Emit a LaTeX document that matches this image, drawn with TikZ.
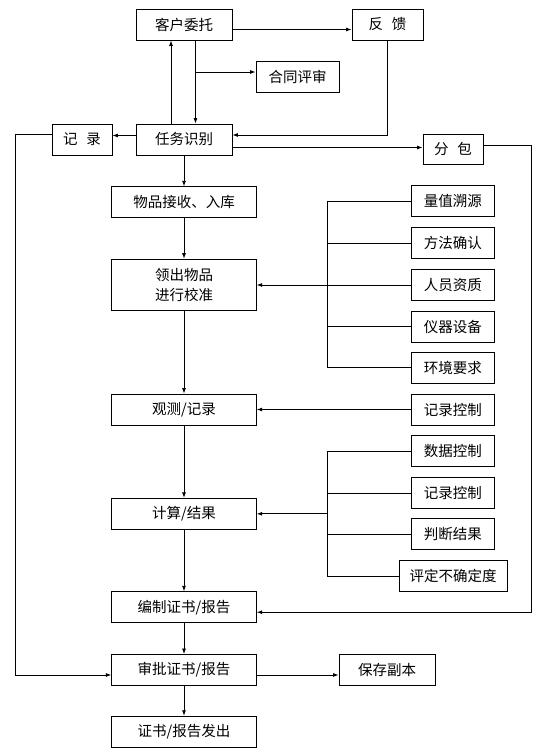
\documentclass[tikz,border=0pt]{standalone}
\usepackage{fontspec}
\setmainfont{Noto Sans CJK SC}
\usetikzlibrary{arrows.meta}
\begin{document}
\begin{tikzpicture}[x=1pt,y=-1pt,
  box/.style={draw, line width=0.9pt, inner sep=0pt, minimum height=31pt, align=center, font=\fontsize{14.5}{19.5}\selectfont},
  mainbox/.style={box, minimum width=144.5pt},
  sidebox/.style={box, minimum width=83.6pt},
  arr/.style={line width=0.8pt, -{Latex[length=5.5pt,width=4pt]}},
  ln/.style={line width=0.8pt}]
\fill[white] (0,0) rectangle (550,752);
\useasboundingbox (0,0) rectangle (550,752);
% top part
\node[box, minimum width=96pt] (kh) at (184,24.5) {客户委托};
\node[box, minimum width=71pt] (fk) at (387.5,24.5) {反\hspace{0.6em}馈};
\node[box, minimum width=83pt, minimum height=31.5pt] (ht) at (297.5,76.75) {合同评审};
\node[box, minimum width=60pt] (jl) at (82,139.5) {记\hspace{0.6em}录};
\node[box, minimum width=96pt] (rw) at (184,139.5) {任务识别};
\node[box, minimum width=60pt, minimum height=30pt] (fb) at (453,149.3) {分\hspace{0.6em}包};
% main column
\node[mainbox] (wp) at (184,202.3) {物品接收、入库};
\node[mainbox, minimum height=51.7pt] (lc) at (184,285) {领出物品\\进行校准};
\node[mainbox] (gc) at (184,409.5) {观测/记录};
\node[mainbox] (js) at (184,513.8) {计算/结果};
\node[mainbox] (bz) at (184,607.2) {编制证书/报告};
\node[mainbox] (sp) at (184,670) {审批证书/报告};
\node[mainbox] (fc) at (184,731.7) {证书/报告发出};
\node[box, minimum width=96pt] (bc) at (387,670) {保存副本};
% right column
\node[sidebox] (q1) at (452.8,201.3) {量值溯源};
\node[sidebox] (q2) at (452.8,243.3) {方法确认};
\node[sidebox] (q3) at (452.8,285) {人员资质};
\node[sidebox] (q4) at (452.8,326.7) {仪器设备};
\node[sidebox] (q5) at (452.8,367.8) {环境要求};
\node[sidebox] (r6) at (452.8,409.5) {记录控制};
\node[sidebox] (s1) at (452.8,451.3) {数据控制};
\node[sidebox] (s2) at (452.8,493.3) {记录控制};
\node[sidebox] (s3) at (452.8,534) {判断结果};
\node[box, minimum width=108.2pt] (s4) at (453.1,576) {评定不确定度};
\coordinate (bx) at (327,0);
% connectors top
\coordinate (a0) at ([yshift=-5pt]kh.east);
\draw[arr] (a0) -- (a0 -| fk.west);
\draw[arr] (fk.south) |- ([yshift=4.5pt]rw.east);
\draw[arr] ([xshift=-13pt]rw.north) -- ([xshift=-13pt]kh.south);
\draw[arr] ([xshift=11.5pt]kh.south) -- ([xshift=11.5pt]rw.north);
\coordinate (b1) at (195.5,72);
\draw[arr] (b1) -- (b1 -| ht.west);
\draw[arr] ([yshift=4pt]rw.west) -- ([yshift=4pt]jl.east);
\draw[arr] ([yshift=5pt]jl.west) -- ++(-36.5pt,0) |- ([yshift=-5pt]sp.west);
\coordinate (a1) at ([yshift=-8pt]rw.east);
\draw[arr] (a1) -- (a1 -| fb.west);
\draw[arr] ([yshift=4pt]fb.east) -- ++(48pt,0) |- ([yshift=-5pt]bz.east);
% main column
\draw[arr] (rw.south) -- (wp.north);
\draw[arr] (wp.south) -- (lc.north);
\draw[arr] (lc.south) -- (gc.north);
\draw[arr] (gc.south) -- (js.north);
\draw[arr] (js.south) -- (bz.north);
\draw[arr] (bz.south) -- (sp.north);
\draw[arr] (sp.south) -- (fc.north);
\coordinate (c1) at ([yshift=-5pt]sp.east);
\draw[arr] (c1) -- (c1 -| bc.west);
% bracket 1
\draw[ln] (q1.west) -- (q1.west -| bx) -- (q5.west -| bx) -- (q5.west);
\draw[ln] (q2.west) -- (q2.west -| bx);
\draw[ln] (q4.west) -- (q4.west -| bx);
\draw[arr] (q3.west) -- (lc.east);
\draw[arr] (r6.west) -- (gc.east);
% bracket 2
\draw[ln] (s1.west) -- (s1.west -| bx) -- (s4.west -| bx) -- (s4.west);
\draw[ln] (s2.west) -- (s2.west -| bx);
\draw[ln] (s3.west) -- (s3.west -| bx);
\draw[arr] (js.east -| bx) -- (js.east);
\end{tikzpicture}
\end{document}
